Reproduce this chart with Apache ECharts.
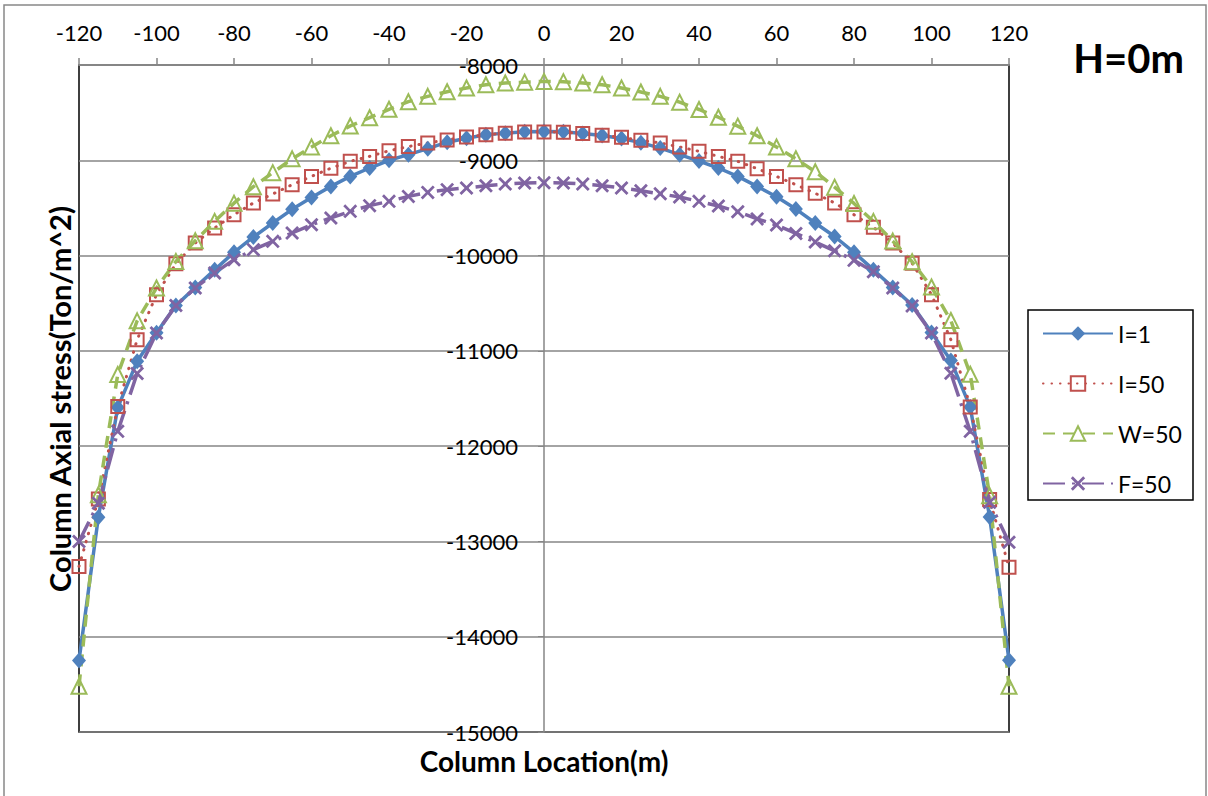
<!DOCTYPE html>
<html><head><meta charset="utf-8">
<script src="https://cdn.jsdelivr.net/npm/echarts@6/dist/echarts.min.js"></script>
<style>html,body{margin:0;padding:0;background:#fff}#c{width:1208px;height:796px}</style>
</head><body><div id="c"></div>
<script>
// Column location (m)
const xs = [-120,-115,-110,-105,-100,-95,-90,-85,-80,-75,-70,-65,-60,-55,-50,-45,-40,-35,-30,-25,-20,-15,-10,-5,0,
  5,10,15,20,25,30,35,40,45,50,55,60,65,70,75,80,85,90,95,100,105,110,115,120];
const seriesNames = ['I=1','I=50','W=50','F=50'];
const I1 = [-14250,-12745,-11595,-11110,-10810,-10525,-10335,-10150,-9966,-9805,-9658,-9515,-9390,-9274,-9169,-9081,-9000,-8941,-8878,-8810,-8768,-8733,-8715,-8700,-8697,
  -8700,-8720,-8740,-8772,-8815,-8872,-8941,-9008,-9081,-9169,-9274,-9382,-9512,-9658,-9800,-9966,-10148,-10334,-10518,-10807,-11102,-11590,-12744,-14248];
const I50 = [-13262,-12556,-11584,-10883,-10410,-10085,-9868,-9710,-9571,-9448,-9354,-9256,-9169,-9083,-9011,-8959,-8900,-8856,-8818,-8786,-8756,-8732,-8716,-8704,-8703,
  -8705,-8720,-8737,-8759,-8790,-8818,-8860,-8906,-8959,-9011,-9088,-9169,-9256,-9346,-9448,-9571,-9703,-9868,-10080,-10410,-10883,-11588,-12560,-13270];
const W50 = [-14520,-12510,-11248,-10685,-10340,-10062,-9845,-9641,-9450,-9277,-9130,-8985,-8860,-8742,-8640,-8553,-8465,-8385,-8329,-8280,-8241,-8207,-8189,-8180,-8172,
  -8175,-8189,-8207,-8241,-8283,-8329,-8390,-8467,-8548,-8642,-8742,-8860,-8984,-9120,-9282,-9453,-9641,-9848,-10065,-10330,-10682,-11245,-12520,-14520];
const F50 = [-13000,-12600,-11845,-11238,-10812,-10524,-10340,-10183,-10043,-9938,-9851,-9763,-9676,-9605,-9536,-9476,-9431,-9379,-9337,-9308,-9290,-9267,-9249,-9238,-9236,
  -9238,-9249,-9267,-9290,-9320,-9352,-9386,-9431,-9480,-9540,-9615,-9680,-9768,-9858,-9950,-10050,-10170,-10340,-10528,-10812,-11235,-11845,-12590,-13008];
const xTicks = [-120,-100,-80,-60,-40,-20,0,20,40,60,80,100,120];
const yTicks = [-15000,-14000,-13000,-12000,-11000,-10000,-9000,-8000];

const FONT = 'Lato, "Open Sans", sans-serif';
const BLUE = '#4F81BD', RED = '#C0504D', GREEN = '#9BBB59', PURPLE = '#8064A2';
const pairs = ys => xs.map((x, i) => [x, ys[i]]);
const X_PATH = 'path://M0,1.4 L1.4,0 L5,3.6 L8.6,0 L10,1.4 L6.4,5 L10,8.6 L8.6,10 L5,6.4 L1.4,10 L0,8.6 L3.6,5 Z';

const W = 1208, H = 796;
const G = {left: 79, right: 199, top: 65, bottom: 64};
const xMin = xTicks[0], xMax = xTicks[xTicks.length - 1];
// y axis crosses the x axis at x = 0: shift it from the grid's left edge into the plot
const yAxisShift = (0 - xMin) / (xMax - xMin) * (W - G.left - G.right);

const chart = echarts.init(document.getElementById('c'), null, {renderer: 'svg'});
chart.setOption({
  animation: false,
  backgroundColor: '#fff',
  textStyle: {fontFamily: FONT},
  grid: Object.assign({show: true, borderColor: '#000', borderWidth: 1.5, backgroundColor: 'transparent', outerBoundsMode: 'none', containLabel: false}, G),
  xAxis: {
    type: 'value', position: 'top', min: xMin, max: xMax, interval: 20,
    axisLine: {show: true, onZero: false, lineStyle: {color: '#868686', width: 2}},
    axisTick: {show: true, inside: false, length: 7, lineStyle: {color: '#868686', width: 1.5}},
    axisLabel: {margin: 22, fontSize: 22, color: '#000', fontFamily: FONT, formatter: v => String(v)},
    splitLine: {show: false}
  },
  yAxis: {
    type: 'value', position: 'left', offset: -yAxisShift, min: yTicks[0], max: yTicks[yTicks.length - 1], interval: 1000,
    axisLine: {show: true, onZero: false, lineStyle: {color: '#868686', width: 1.5}},
    axisTick: {show: true, length: 6, lineStyle: {color: '#868686'}},
    axisLabel: {margin: 26, fontSize: 22, lineHeight: 22, color: '#000', fontFamily: FONT, formatter: v => String(v)},
    splitLine: {show: true, lineStyle: {color: '#868686', width: 1.5}}
  },
  legend: {
    orient: 'vertical', left: 1042, top: 322, itemWidth: 70, itemHeight: 18, itemGap: 27,
    padding: 0, textStyle: {fontSize: 23, lineHeight: 20, color: '#000', fontFamily: FONT},
    data: seriesNames
  },
  graphic: [
    {type: 'rect', shape: {x: 4, y: 5, width: 1202, height: 810}, style: {fill: 'none', stroke: '#888', lineWidth: 1.5}, silent: true},
    {type: 'rect', shape: {x: 1028, y: 310, width: 165, height: 190}, style: {fill: 'none', stroke: '#000', lineWidth: 1.5}, silent: true},
    {type: 'text', right: 24, top: 38, style: {text: 'H=0m', font: 'bold 40px ' + FONT, fill: '#000'}},
    {type: 'text', x: 544, y: 761, style: {text: 'Column Location(m)', font: 'bold 28px ' + FONT, lineHeight: 28, fill: '#000', textAlign: 'center', textVerticalAlign: 'middle'}},
    {type: 'text', x: 59, y: 399, rotation: Math.PI / 2, style: {text: 'Column Axial stress(Ton/m^2)', font: 'bold 29px ' + FONT, fill: '#000', textAlign: 'center', textVerticalAlign: 'middle'}}
  ],
  series: [
    {name: seriesNames[0], type: 'line', data: pairs(I1), symbol: 'diamond', symbolSize: [14, 16],
     itemStyle: {color: BLUE}, lineStyle: {color: BLUE, width: 3.5}},
    {name: seriesNames[1], type: 'line', data: pairs(I50), symbol: 'rect', symbolSize: 13,
     itemStyle: {color: 'transparent', borderColor: RED, borderWidth: 2}, lineStyle: {color: RED, width: 3, type: [0.5, 8], cap: 'round'}},
    {name: seriesNames[2], type: 'line', data: pairs(W50), symbol: 'triangle', symbolSize: 15,
     itemStyle: {color: 'transparent', borderColor: GREEN, borderWidth: 2}, lineStyle: {color: GREEN, width: 3.5, type: [12, 8]}},
    {name: seriesNames[3], type: 'line', data: pairs(F50), symbol: X_PATH, symbolSize: 14,
     itemStyle: {color: PURPLE}, lineStyle: {color: PURPLE, width: 3.5, type: [22, 7, 3, 7]}}
  ]
});
</script></body></html>
